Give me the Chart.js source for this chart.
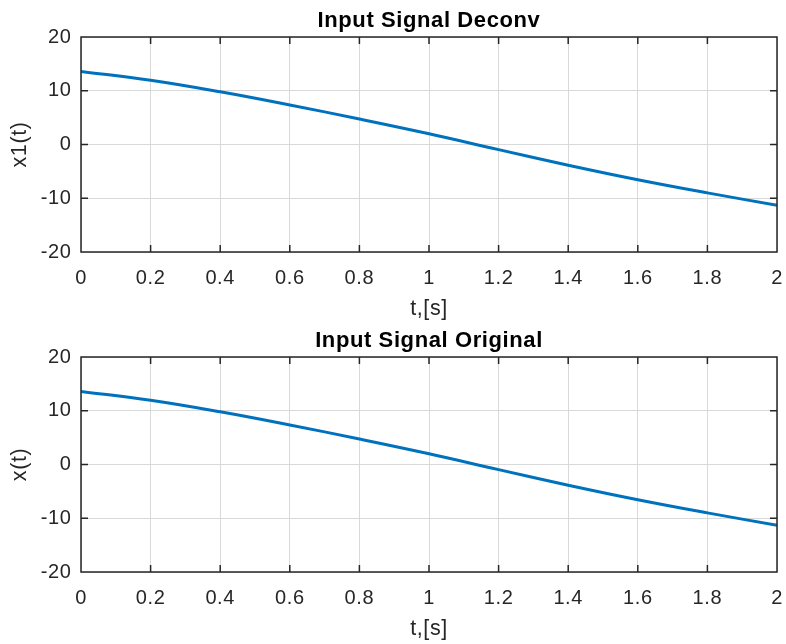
<!DOCTYPE html>
<html>
<head>
<meta charset="utf-8">
<script src="https://cdn.jsdelivr.net/npm/chart.js@4/dist/chart.umd.min.js"></script>
<style>
  html, body { margin: 0; padding: 0; background: #ffffff; }
  #wrap { position: relative; width: 786px; height: 644px; background: #ffffff; }
  canvas { position: absolute; left: 0; }
  #c1 { top: 0; }
  #c2 { top: 320px; }
</style>
</head>
<body>
<div id="wrap">
  <canvas id="c1" width="786" height="320"></canvas>
  <canvas id="c2" width="786" height="320"></canvas>
</div>
<script>
// ---- data ----
const tValues = [0, 0.2, 0.4, 0.6, 0.8, 1.0, 1.2, 1.4, 1.6, 1.8, 2.0];
const x1Deconv = [13.6, 11.95, 9.8, 7.35, 4.74, 2.0, -0.95, -3.85, -6.55, -9.0, -11.3];
const xOriginal = [13.6, 11.95, 9.8, 7.35, 4.74, 2.0, -0.95, -3.85, -6.55, -9.0, -11.3];
const xTickValues = [0, 0.2, 0.4, 0.6, 0.8, 1, 1.2, 1.4, 1.6, 1.8, 2];
const yTickValues = [-20, -10, 0, 10, 20];
const titles = ['Input Signal Deconv', 'Input Signal Original'];
const yLabels = ['x1(t)', 'x(t)'];
const xLabel = 't,[s]';

const TEXT = '#262626';
const FONT = "'Liberation Sans', Arial, Helvetica, sans-serif";
const SPACING = '0.6px';

const spacingPlugin = {
  id: 'spacing',
  beforeUpdate(chart) { chart.ctx.letterSpacing = SPACING; },
  beforeLayout(chart) { chart.ctx.letterSpacing = SPACING; },
  beforeDraw(chart) { chart.ctx.letterSpacing = SPACING; }
};

const boxPlugin = {
  id: 'box',
  afterDraw(chart) {
    const { ctx, chartArea: a, scales } = chart;
    const tl = 7;
    ctx.save();
    ctx.strokeStyle = TEXT;
    ctx.lineWidth = 1.5;
    ctx.strokeRect(a.left, a.top, a.right - a.left, a.bottom - a.top);
    ctx.beginPath();
    scales.x.ticks.forEach(t => {
      const px = scales.x.getPixelForValue(t.value);
      if (px <= a.left + 1 || px >= a.right - 1) return;
      ctx.moveTo(px, a.bottom); ctx.lineTo(px, a.bottom - tl);
      ctx.moveTo(px, a.top); ctx.lineTo(px, a.top + tl);
    });
    scales.y.ticks.forEach(t => {
      const py = scales.y.getPixelForValue(t.value);
      if (py <= a.top + 1 || py >= a.bottom - 1) return;
      ctx.moveTo(a.left, py); ctx.lineTo(a.left + tl, py);
      ctx.moveTo(a.right, py); ctx.lineTo(a.right - tl, py);
    });
    ctx.stroke();
    ctx.restore();
  }
};

function makeChart(id, values, title, yLabel) {
  const pts = tValues.map((t, i) => ({ x: t, y: values[i] }));
  return new Chart(document.getElementById(id), {
    type: 'line',
    data: {
      datasets: [{
        data: pts,
        borderColor: '#0072BD',
        borderWidth: 3,
        pointRadius: 0,
        fill: false,
        tension: 0.4
      }]
    },
    options: {
      responsive: false,
      animation: false,
      events: [],
      layout: { padding: { left: 0, right: 9, top: 0, bottom: 0 } },
      plugins: {
        legend: { display: false },
        tooltip: { enabled: false },
        title: {
          display: true,
          text: title,
          fullSize: false,
          color: '#000000',
          font: { family: FONT, size: 22, weight: 'bold', lineHeight: 1 },
          padding: { top: 10, bottom: 5 }
        }
      },
      scales: {
        x: {
          type: 'linear',
          min: 0, max: 2,
          afterBuildTicks: s => { s.ticks = xTickValues.map(v => ({ value: v })); },
          afterFit: s => { s.height = 68; s.paddingLeft = 0; s.paddingRight = 0; },
          ticks: {
            color: TEXT,
            font: { family: FONT, size: 20 },
            padding: 14,
            maxRotation: 0,
            autoSkip: false,
            callback: v => String(Math.round(v * 10) / 10)
          },
          grid: { color: '#d9d9d9', lineWidth: 1, drawTicks: false },
          border: { display: false },
          title: {
            display: true,
            text: xLabel,
            color: TEXT,
            font: { family: FONT, size: 21.5, lineHeight: 1 },
            padding: { top: 0, bottom: 0 }
          }
        },
        y: {
          type: 'linear',
          min: -20, max: 20,
          afterBuildTicks: s => { s.ticks = yTickValues.map(v => ({ value: v })); },
          afterFit: s => { s.width = 81; s.paddingTop = 0; s.paddingBottom = 0; },
          ticks: {
            color: TEXT,
            font: { family: FONT, size: 20 },
            padding: 9.5,
            autoSkip: false,
            callback: v => String(v)
          },
          grid: { color: '#d9d9d9', lineWidth: 1, drawTicks: false },
          border: { display: false },
          title: {
            display: true,
            text: yLabel,
            color: TEXT,
            font: { family: FONT, size: 21.5, lineHeight: 1 },
            padding: { top: 9, bottom: 0 }
          }
        }
      }
    },
    plugins: [spacingPlugin, boxPlugin]
  });
}

makeChart('c1', x1Deconv, titles[0], yLabels[0]);
makeChart('c2', xOriginal, titles[1], yLabels[1]);
</script>
</body>
</html>
